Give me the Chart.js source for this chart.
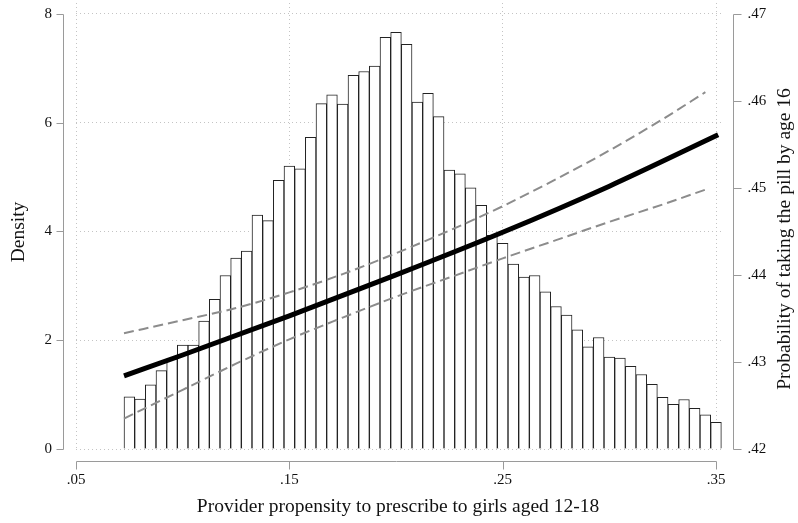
<!DOCTYPE html>
<html>
<head>
<meta charset="utf-8">
<script src="https://cdn.jsdelivr.net/npm/chart.js@4.4.1/dist/chart.umd.min.js"></script>
<style>
  html, body { margin: 0; padding: 0; background: #fff; }
  #wrap { width: 798px; height: 523px; }
</style>
</head>
<body>
<div id="wrap"><canvas id="chart" width="798" height="523"></canvas></div>
<script>
// --- Data ---
// histogram bins (centre of each 0.005-wide bin)
const binCenters = [
  0.075, 0.080, 0.085, 0.090, 0.095, 0.100, 0.105, 0.110, 0.115, 0.120,
  0.125, 0.130, 0.135, 0.140, 0.145, 0.150, 0.155, 0.160, 0.165, 0.170,
  0.175, 0.180, 0.185, 0.190, 0.195, 0.200, 0.205, 0.210, 0.215, 0.220,
  0.225, 0.230, 0.235, 0.240, 0.245, 0.250, 0.255, 0.260, 0.265, 0.270,
  0.275, 0.280, 0.285, 0.290, 0.295, 0.300, 0.305, 0.310, 0.315, 0.320,
  0.325, 0.330, 0.335, 0.340, 0.345, 0.350
];
const density = [
  0.96, 0.92, 1.18, 1.44, 1.66, 1.91, 1.91, 2.35, 2.75, 3.19,
  3.51, 3.64, 4.30, 4.20, 4.94, 5.20, 5.15, 5.73, 6.35, 6.51,
  6.34, 6.87, 6.94, 7.04, 7.57, 7.66, 7.44, 6.38, 6.54, 6.11,
  5.13, 5.06, 4.80, 4.48, 3.93, 3.78, 3.40, 3.16, 3.19, 2.89,
  2.62, 2.46, 2.19, 1.88, 2.05, 1.69, 1.67, 1.52, 1.37, 1.19,
  0.95, 0.82, 0.91, 0.75, 0.63, 0.49
];

// fitted probability and its confidence band (right axis)
const fitX = [0.0725, 0.10, 0.15, 0.20, 0.25, 0.30, 0.351];
const fitY = [0.4284, 0.4308, 0.4353, 0.4400, 0.4449, 0.4502, 0.4561];
const ciX = [0.0725, 0.10, 0.125, 0.15, 0.175, 0.20, 0.225, 0.25, 0.275, 0.30, 0.325, 0.345];
const ciUpper = [0.4333, 0.4348, 0.4362, 0.4380, 0.4401, 0.4425, 0.4451, 0.4479, 0.4510, 0.4543, 0.4579, 0.4610];
const ciLower = [0.4235, 0.4268, 0.4298, 0.4326, 0.4351, 0.4375, 0.4397, 0.4419, 0.4440, 0.4461, 0.4481, 0.4498];

// ticks
const xTicks = [0.05, 0.15, 0.25, 0.35];
const xTickLabels = ['.05', '.15', '.25', '.35'];
const yTicks = [0, 2, 4, 6, 8];
const y2Ticks = [0.42, 0.43, 0.44, 0.45, 0.46, 0.47];
const y2TickLabels = ['.42', '.43', '.44', '.45', '.46', '.47'];

const xTitle = 'Provider propensity to prescribe to girls aged 12-18';
const yTitle = 'Density';
const y2Title = 'Probability of taking the pill by age 16';

// --- Style ---
const SERIF = '"Liberation Serif", "Times New Roman", serif';
const TEXT = '#111';
const AXIS = '#9a9a9a';
const GRID = '#c4c4c4';

const toPoints = (xs, ys) => xs.map((x, i) => ({ x: x, y: ys[i] }));

// fixed scale boxes so the plot region lands where the reference has it
const fixBox = (w, h) => (s) => {
  if (w !== null) s.width = w;
  if (h !== null) s.height = h;
  s.paddingTop = 0; s.paddingBottom = 0;
  s.paddingLeft = 0; s.paddingRight = 0;
};

// offset axis lines + titles, drawn the Stata way
const axesPlugin = {
  id: 'stataAxes',
  afterDraw(chart) {
    const ctx = chart.ctx;
    const x = chart.scales.x, y = chart.scales.y, y2 = chart.scales.y2;
    const yTop = Math.round(y.getPixelForValue(8)) + 0.5;
    const yBot = Math.round(y.getPixelForValue(0)) + 0.5;
    const xL = Math.round(x.getPixelForValue(0.05)) + 0.5;
    const xR = Math.round(x.getPixelForValue(0.35)) + 0.5;
    const leftX = 63.5, rightX = 733.5, bottomY = 461.5;

    ctx.save();
    ctx.strokeStyle = AXIS;
    ctx.lineWidth = 1;
    ctx.beginPath();
    // left axis
    ctx.moveTo(leftX, yTop); ctx.lineTo(leftX, yBot);
    yTicks.forEach(v => {
      const py = Math.round(y.getPixelForValue(v)) + 0.5;
      ctx.moveTo(leftX - 7, py); ctx.lineTo(leftX, py);
    });
    // right axis
    ctx.moveTo(rightX, yTop); ctx.lineTo(rightX, yBot);
    y2Ticks.forEach(v => {
      const py = Math.round(y2.getPixelForValue(v)) + 0.5;
      ctx.moveTo(rightX, py); ctx.lineTo(rightX + 8, py);
    });
    // bottom axis
    ctx.moveTo(xL, bottomY); ctx.lineTo(xR, bottomY);
    xTicks.forEach(v => {
      const px = Math.round(x.getPixelForValue(v)) + 0.5;
      ctx.moveTo(px, bottomY); ctx.lineTo(px, bottomY + 8);
    });
    ctx.stroke();

    ctx.fillStyle = TEXT;
    ctx.font = '19.5px ' + SERIF;
    ctx.textAlign = 'center';
    ctx.textBaseline = 'middle';
    ctx.fillText(xTitle, 398, 507);

    ctx.save();
    ctx.translate(19, 232);
    ctx.rotate(-Math.PI / 2);
    ctx.fillText(yTitle, 0, 0);
    ctx.restore();

    ctx.save();
    ctx.translate(785, 239);
    ctx.rotate(-Math.PI / 2);
    ctx.fillText(y2Title, 0, 0);
    ctx.restore();
    ctx.restore();
  }
};

new Chart(document.getElementById('chart'), {
  type: 'bar',
  data: {
    datasets: [
      {
        type: 'line',
        label: 'Upper CI',
        data: toPoints(ciX, ciUpper),
        yAxisID: 'y2',
        borderColor: '#8c8c8c',
        borderWidth: 2,
        borderDash: [10, 5],
        pointRadius: 0,
        cubicInterpolationMode: 'monotone',
        order: 1
      },
      {
        type: 'line',
        label: 'Lower CI',
        data: toPoints(ciX, ciLower),
        yAxisID: 'y2',
        borderColor: '#8c8c8c',
        borderWidth: 2,
        borderDash: [10, 5],
        pointRadius: 0,
        cubicInterpolationMode: 'monotone',
        order: 1
      },
      {
        type: 'line',
        label: 'Fit',
        data: toPoints(fitX, fitY),
        yAxisID: 'y2',
        borderColor: '#000',
        borderWidth: 5,
        pointRadius: 0,
        cubicInterpolationMode: 'monotone',
        order: 0
      },
      {
        label: 'Density',
        data: toPoints(binCenters, density),
        yAxisID: 'y',
        backgroundColor: '#ffffff',
        borderColor: '#222',
        borderWidth: { top: 1, left: 1, right: 1, bottom: 0 },
        barPercentage: 1,
        categoryPercentage: 1,
        order: 2
      }
    ]
  },
  options: {
    responsive: false,
    animation: false,
    layout: { padding: { top: 3, left: 0, right: 0, bottom: 0 }, autoPadding: false },
    plugins: {
      legend: { display: false },
      tooltip: { enabled: false }
    },
    scales: {
      x: {
        type: 'linear',
        position: 'bottom',
        offset: false,
        min: 0.05,
        max: 0.3535,
        afterBuildTicks: (s) => { s.ticks = xTicks.map(v => ({ value: v })); },
        afterFit: fixBox(null, 74),
        ticks: {
          padding: 22,
          color: TEXT,
          font: { family: SERIF, size: 15 },
          maxRotation: 0,
          autoSkip: false,
          callback: (v, i) => xTickLabels[i]
        },
        grid: { color: GRID, lineWidth: 1, drawTicks: false, offset: false },
        border: { display: false, dash: [1, 3] }
      },
      y: {
        position: 'left',
        min: 0,
        max: 8.2,
        afterBuildTicks: (s) => { s.ticks = yTicks.map(v => ({ value: v })); },
        afterFit: fixBox(76, null),
        ticks: {
          padding: 24,
          color: TEXT,
          font: { family: SERIF, size: 15 },
          callback: (v) => String(v)
        },
        grid: { color: GRID, lineWidth: 1, drawTicks: false },
        border: { display: false, dash: [1, 3] }
      },
      y2: {
        position: 'right',
        min: 0.42,
        max: 0.47125,
        afterBuildTicks: (s) => { s.ticks = y2Ticks.map(v => ({ value: v })); },
        afterFit: fixBox(74.5, null),
        ticks: {
          padding: 24,
          color: TEXT,
          font: { family: SERIF, size: 15 },
          callback: (v, i) => y2TickLabels[i]
        },
        grid: { display: false, drawTicks: false },
        border: { display: false }
      }
    }
  },
  plugins: [axesPlugin]
});
</script>
</body>
</html>
